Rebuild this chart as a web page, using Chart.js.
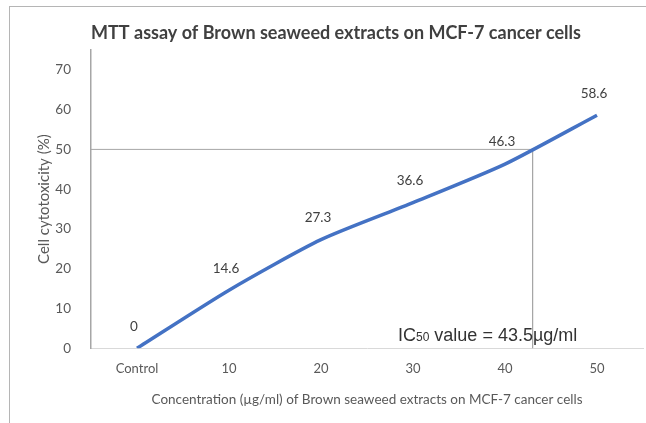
<!DOCTYPE html>
<html>
<head>
<meta charset="utf-8">
<script src="https://cdn.jsdelivr.net/npm/chart.js@4.4.1/dist/chart.umd.min.js"></script>
<style>
  body{margin:0;background:#fff;}
  .frame{position:absolute;left:9px;top:6px;width:700px;height:500px;border-top:1px solid #b5b5b5;border-left:1px solid #b5b5b5;}
  .wrap{position:absolute;left:0;top:0;width:646px;height:423px;}
</style>
</head>
<body>
<div class="frame"></div>
<div class="wrap"><canvas id="mttChart"></canvas></div>
<script>
// categories and values
const categories = ["Control","10","20","30","40","50"];
const cytotoxicity = [0,14.6,27.3,36.6,46.3,58.6];
const yTicks = [0,10,20,30,40,50,60,70];
// IC50 guide line: the curve reaches 50 % at about 43 ug/ml
const ic50Level = 50;
const ic50Conc = 43;
const ic50Text = ["IC","50"," value = 43.5µg/ml"];
const chartTitle = 'MTT assay of Brown seaweed extracts on MCF-7 cancer cells';

const pointData = cytotoxicity.map((v,i)=>({x:i,y:v}));
const guideData = [
  {x:-0.5,y:ic50Level},
  {x:ic50Conc/10,y:ic50Level},
  {x:ic50Conc/10,y:0}
];

const labelPlugin = {
  id:'valueLabels',
  afterDatasetsDraw(chart){
    const ctx = chart.ctx;
    const meta = chart.getDatasetMeta(1);
    ctx.save();
    // title (drawn here so it can sit a bit right of centre like the original)
    ctx.font = 'bold 18px Lato';
    ctx.fillStyle = '#404040';
    ctx.textAlign = 'center';
    ctx.textBaseline = 'middle';
    ctx.fillText(chartTitle, 336, 33);

    ctx.font = '13.5px Lato';
    meta.data.forEach((pt,i)=>{
      ctx.fillText(String(cytotoxicity[i]), pt.x-3, pt.y-22);
    });
    // IC50 note
    let x = 398, y = 341;
    ctx.textAlign = 'left';
    ctx.textBaseline = 'alphabetic';
    ctx.fillStyle = '#333333';
    ctx.font = '18px "Liberation Sans"';
    ctx.fillText(ic50Text[0], x, y);
    x += ctx.measureText(ic50Text[0]).width;
    ctx.font = '12px "Liberation Sans"';
    ctx.fillText(ic50Text[1], x, y);
    x += ctx.measureText(ic50Text[1]).width;
    ctx.font = '18px "Liberation Sans"';
    ctx.fillText(ic50Text[2], x, y);
    ctx.restore();
  }
};

new Chart(document.getElementById('mttChart'),{
  type:'line',
  data:{
    datasets:[
      {
        data:guideData,
        borderColor:'#a6a6a6',
        borderWidth:1,
        pointRadius:0,
        tension:0,
        order:2
      },
      {
        data:pointData,
        borderColor:'#4472C4',
        borderWidth:3.5,
        pointRadius:0,
        tension:0.22,
        order:1
      }
    ]
  },
  options:{
    responsive:true,
    maintainAspectRatio:false,
    animation:false,
    layout:{padding:{left:0,right:3,top:50,bottom:15}},
    plugins:{
      legend:{display:false},
      tooltip:{enabled:false},
      title:{display:false}
    },
    scales:{
      x:{
        type:'linear',
        min:-0.5,
        max:5.5,
        afterBuildTicks(s){ s.ticks = categories.map((c,i)=>({value:i})); },
        ticks:{
          color:'#595959',
          font:{family:'Lato',size:13},
          padding:5,
          callback:(v)=>categories[v]
        },
        grid:{display:false},
        border:{display:true,color:'#d9d9d9',width:1},
        title:{
          display:true,
          text:'Concentration (µg/ml) of Brown seaweed extracts on MCF-7 cancer cells',
          color:'#595959',
          font:{family:'Lato',size:13.5},
          padding:{top:10,bottom:0}
        }
      },
      y:{
        min:0,
        max:75,
        afterBuildTicks(s){ s.ticks = yTicks.map(v=>({value:v})); },
        afterFit(s){ s.width = 91; },
        ticks:{
          color:'#595959',
          font:{family:'Lato',size:13.5},
          padding:12
        },
        grid:{display:false},
        border:{display:true,color:'#a6a6a6',width:1.5},
        title:{
          display:true,
          text:'Cell cytotoxicity (%)',
          color:'#595959',
          font:{family:'Lato',size:15},
          padding:{top:35,bottom:0}
        }
      }
    }
  },
  plugins:[labelPlugin]
});
</script>
</body>
</html>
